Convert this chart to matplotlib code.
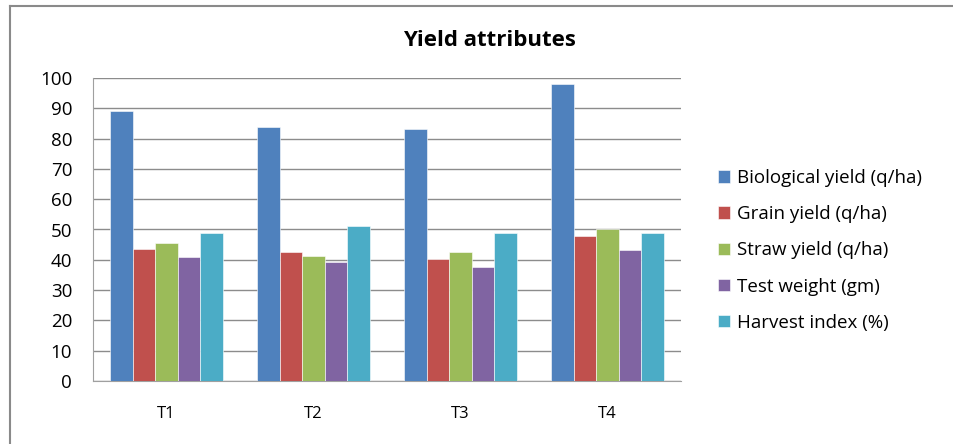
import numpy as np
import matplotlib
matplotlib.use('Agg')
import matplotlib.pyplot as plt
from matplotlib.lines import Line2D

treatments = ['T1', 'T2', 'T3', 'T4']
biological_yield = [89.2, 83.7, 83.1, 98.0]
grain_yield = [43.4, 42.7, 40.4, 47.9]
straw_yield = [45.7, 41.1, 42.7, 50.1]
test_weight = [40.8, 39.2, 37.6, 43.1]
harvest_index = [48.9, 51.2, 48.7, 48.7]

series_names = ['Biological yield (q/ha)', 'Grain yield (q/ha)', 'Straw yield (q/ha)',
                'Test weight (gm)', 'Harvest index (%)']
colors = ['#4F81BD', '#C0504D', '#9BBB59', '#8064A2', '#4BACC6']

plt.rcParams['font.family'] = ['Open Sans', 'DejaVu Sans']

fig = plt.figure(figsize=(9.54, 4.44), dpi=100)
ax = fig.add_axes([93 / 954, 1 - 381 / 444, (681 - 93) / 954, (381 - 78) / 444])

x = np.arange(len(treatments))
w = 0.154
all_series = [biological_yield, grain_yield, straw_yield, test_weight, harvest_index]
for i, (vals, name, c) in enumerate(zip(all_series, series_names, colors)):
    ax.bar(x + (i - 2) * w, vals, width=w, color=c, label=name,
           edgecolor='white', linewidth=0.4, zorder=3)

ax.set_xlim(-0.5, 3.5)
ax.set_ylim(0, 100)
ax.set_yticks(range(0, 101, 10))
ax.set_xticks(x)
ax.set_xticklabels(treatments)
ax.grid(axis='y', color='#8c8c8c', linewidth=1.0, zorder=0)
ax.tick_params(axis='y', length=0, pad=15, labelsize=13.5)
ax.tick_params(axis='x', length=0, pad=18, labelsize=12)
for s in ['top', 'right']:
    ax.spines[s].set_visible(False)
ax.spines['left'].set_color('#a0a0a0')
ax.spines['bottom'].set_color('#a0a0a0')

fig.text(489 / 954, 1 - 40 / 444, 'Yield attributes', ha='center', va='center',
         fontsize=16, fontweight='bold')

leg = ax.legend(loc='upper left', bbox_to_anchor=(718 / 954, 1 - 169 / 444),
                bbox_transform=fig.transFigure, frameon=False, fontsize=13.5,
                handlelength=0.65, handleheight=0.65, handletextpad=0.35,
                labelspacing=0.97, borderaxespad=0, borderpad=0)

# outer chart border (left and top)
fig.add_artist(Line2D([10 / 954, 10 / 954], [0, 1 - 6 / 444], transform=fig.transFigure,
                      color='#8a8a8a', linewidth=1.5))
fig.add_artist(Line2D([10 / 954, 1], [1 - 6 / 444, 1 - 6 / 444], transform=fig.transFigure,
                      color='#8a8a8a', linewidth=1.5))

fig.savefig('out.png', dpi=100)
